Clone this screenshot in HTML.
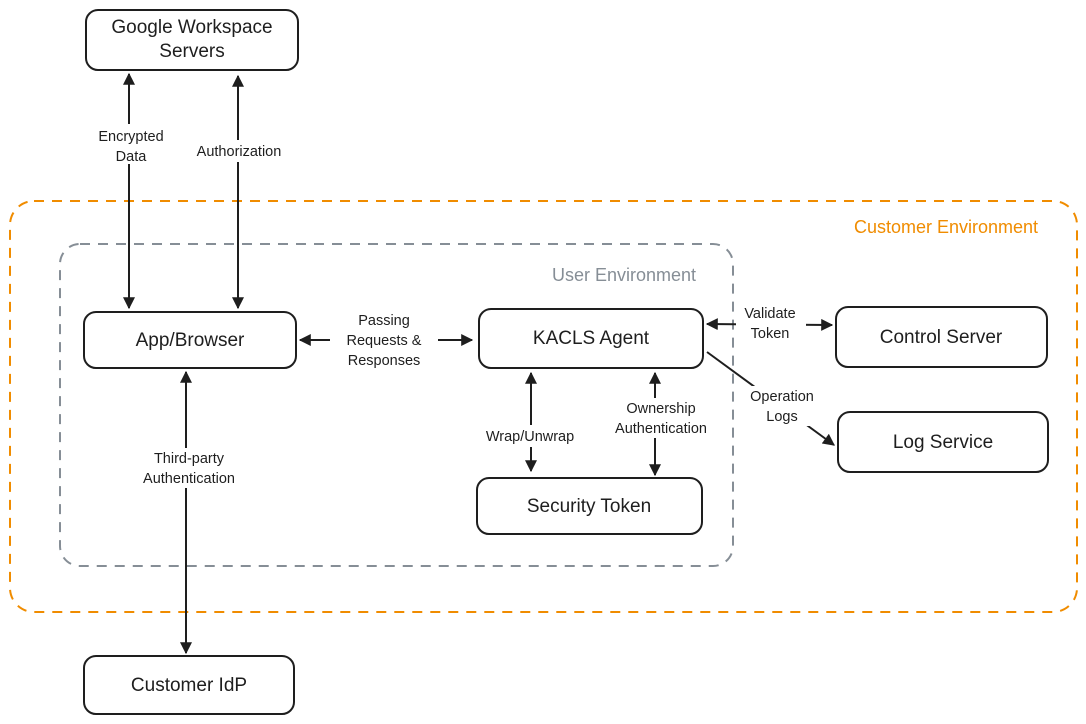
<!DOCTYPE html>
<html><head><meta charset="utf-8"><style>
html,body{margin:0;padding:0;background:#fff;}
svg{display:block;}
text{font-family:"Liberation Sans",sans-serif;fill:#1e1e1e;text-anchor:middle;}
.b{font-size:19px;}
.l{font-size:14.5px;}
</style></head><body>
<svg width="1086" height="724" viewBox="0 0 1086 724" xmlns="http://www.w3.org/2000/svg">
<defs>
<marker id="a" viewBox="0 0 10 10" refX="9" refY="5" markerWidth="6" markerHeight="6" orient="auto-start-reverse"><path d="M0,0 L10,5 L0,10 z" fill="#1e1e1e"/></marker>
</defs>
<rect x="10" y="201" width="1067" height="411" rx="24" fill="none" stroke="#f08c00" stroke-width="2" stroke-dasharray="10 8"/>
<rect x="60" y="244" width="673" height="322" rx="20" fill="none" stroke="#868e96" stroke-width="2" stroke-dasharray="10 8"/>
<text x="946" y="233" style="font-size:18px;fill:#f08c00">Customer Environment</text>
<text x="624" y="281" style="font-size:18px;fill:#868e96">User Environment</text>
<g fill="#fff" stroke="#1e1e1e" stroke-width="2">
<rect x="86" y="10" width="212" height="60" rx="12"/>
<rect x="84" y="312" width="212" height="56" rx="12"/>
<rect x="479" y="309" width="224" height="59" rx="12"/>
<rect x="836" y="307" width="211" height="60" rx="12"/>
<rect x="838" y="412" width="210" height="60" rx="12"/>
<rect x="477" y="478" width="225" height="56" rx="12"/>
<rect x="84" y="656" width="210" height="58" rx="12"/>
</g>
<text class="b" x="192" y="33">Google Workspace</text>
<text class="b" x="192" y="57">Servers</text>
<text class="b" x="190" y="346">App/Browser</text>
<text class="b" x="591" y="344">KACLS Agent</text>
<text class="b" x="941" y="343">Control Server</text>
<text class="b" x="943" y="448">Log Service</text>
<text class="b" x="589" y="512">Security Token</text>
<text class="b" x="189" y="691">Customer IdP</text>
<g stroke="#1e1e1e" stroke-width="2" fill="none" marker-start="url(#a)" marker-end="url(#a)">
<line x1="129" y1="74" x2="129" y2="308"/>
<line x1="238" y1="76" x2="238" y2="308"/>
<line x1="300" y1="340" x2="472" y2="340"/>
<line x1="707" y1="324" x2="832" y2="325"/>
<line x1="531" y1="373" x2="531" y2="471"/>
<line x1="655" y1="373" x2="655" y2="475"/>
<line x1="186" y1="372" x2="186" y2="653"/>
<line x1="707" y1="352" x2="834" y2="445" marker-start="none"/>
</g>
<g fill="#fff">
<rect x="88" y="124" width="84" height="40"/>
<rect x="186" y="140" width="106" height="22"/>
<rect x="330" y="310" width="108" height="60"/>
<rect x="736" y="303" width="70" height="40"/>
<rect x="740" y="386" width="84" height="40"/>
<rect x="476" y="425" width="110" height="22"/>
<rect x="608" y="398" width="106" height="40"/>
<rect x="134" y="448" width="112" height="40"/>
</g>
<g class="l">
<text class="l" x="131" y="141">Encrypted</text>
<text class="l" x="131" y="161">Data</text>
<text class="l" x="239" y="156">Authorization</text>
<text class="l" x="384" y="325">Passing</text>
<text class="l" x="384" y="345">Requests &amp;</text>
<text class="l" x="384" y="365">Responses</text>
<text class="l" x="770" y="318">Validate</text>
<text class="l" x="770" y="338">Token</text>
<text class="l" x="782" y="401">Operation</text>
<text class="l" x="782" y="421">Logs</text>
<text class="l" x="530" y="441">Wrap/Unwrap</text>
<text class="l" x="661" y="413">Ownership</text>
<text class="l" x="661" y="433">Authentication</text>
<text class="l" x="189" y="463">Third-party</text>
<text class="l" x="189" y="483">Authentication</text>
</g>
</svg>
</body></html>
